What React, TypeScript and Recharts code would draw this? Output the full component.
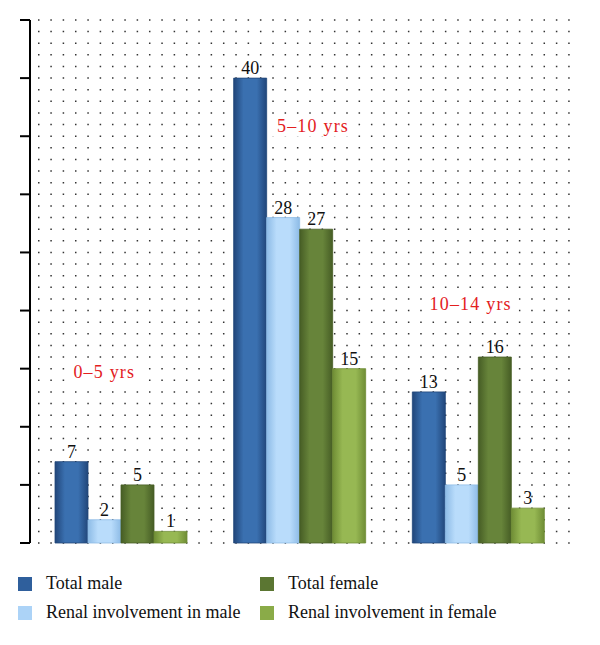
import React from 'react';
import { BarChart, Bar, XAxis, YAxis, CartesianGrid, Legend, LabelList, ReferenceDot } from 'recharts';

const groups = ['0–5 yrs', '5–10 yrs', '10–14 yrs'];
const totalMale = [7, 40, 13];
const renalMale = [2, 28, 5];
const totalFemale = [5, 27, 16];
const renalFemale = [1, 15, 3];
const yDomain = [0, 45];
const yTicks = [0, 5, 10, 15, 20, 25, 30, 35, 40, 45];
const gridValues = [
  0, 1, 2, 3, 4, 5, 6, 7, 8, 9, 10, 11, 12, 13, 14, 15, 16, 17, 18, 19, 20, 21, 22,
  23, 24, 25, 26, 27, 28, 29, 30, 31, 32, 33, 34, 35, 36, 37, 38, 39, 40, 41, 42, 43, 44, 45,
];
const annotationLabels = ['0–5 yrs', '5–10 yrs', '10–14 yrs'];
const annotationY = [14.7, 35.9, 20.6];
const annotationDx = [-17, 13, -8];

const series = [
  { key: 'totalMale', name: 'Total male', solid: '#2f5f9c', edge: '#21467a', mid: '#3a70b0' },
  { key: 'renalMale', name: 'Renal involvement in male', solid: '#acd3f7', edge: '#8dbbe6', mid: '#b9dcfb' },
  { key: 'totalFemale', name: 'Total female', solid: '#5b7632', edge: '#465d25', mid: '#67843a' },
  { key: 'renalFemale', name: 'Renal involvement in female', solid: '#8aab48', edge: '#6f8d35', mid: '#97b853' },
];

const data = groups.map((g, i) => ({
  group: g,
  totalMale: totalMale[i],
  renalMale: renalMale[i],
  totalFemale: totalFemale[i],
  renalFemale: renalFemale[i],
}));

const FONT = '"Liberation Serif", "DejaVu Serif", serif';

const LegendContent = () => (
  <div
    style={{
      display: 'grid',
      gridTemplateRows: '29px 29px',
      gridTemplateColumns: '242px 320px',
      gridAutoFlow: 'column',
      paddingTop: 26,
      paddingLeft: 10,
      height: 85,
      boxSizing: 'border-box',
      fontFamily: FONT,
      fontSize: 18,
      color: '#111',
    }}
  >
    {series.map((s) => (
      <div key={s.key} style={{ display: 'flex', alignItems: 'center', height: 29 }}>
        <span
          style={{
            display: 'inline-block',
            width: 14,
            height: 14,
            background: s.solid,
            marginRight: 14,
          }}
        />
        <span>{s.name}</span>
      </div>
    ))}
  </div>
);

const gridGenerator = (args: any) => {
  const s = args?.yAxis?.scale;
  if (typeof s === 'function') return gridValues.map((v) => s(v));
  const top = args.offset.top;
  const h = args.offset.height;
  return gridValues.map((v) => top + h * (1 - (v - yDomain[0]) / (yDomain[1] - yDomain[0])));
};

const makeAnnotation = (text: string, dx: number) => (props: any) => {
  const vb = props.viewBox || {};
  const cx = (vb.x || 0) + (vb.width || 0) / 2 + dx;
  const cy = (vb.y || 0) + (vb.height || 0) / 2;
  const w = text.length * 10 + 6;
  return (
    <g>
      <rect x={cx - w / 2} y={cy - 11} width={w} height={22} fill="#fff" />
      <text
        x={cx}
        y={cy}
        textAnchor="middle"
        dominantBaseline="central"
        fill="#e3201e"
        fontSize={18}
        letterSpacing={1.2}
        fontFamily={FONT}
      >
        {text}
      </text>
    </g>
  );
};

export default function App() {
  return (
    <div style={{ fontFamily: FONT }}>
      <BarChart
        width={584}
        height={630}
        data={data}
        margin={{ top: 12, right: 22, bottom: 10, left: 0 }}
        barGap={0}
      >
        <defs>
          {series.map((s) => (
            <linearGradient key={s.key} id={`grad-${s.key}`} x1="0" y1="0" x2="1" y2="0">
              <stop offset="0%" stopColor={s.edge} />
              <stop offset="30%" stopColor={s.mid} />
              <stop offset="70%" stopColor={s.mid} />
              <stop offset="100%" stopColor={s.edge} />
            </linearGradient>
          ))}
        </defs>
        <CartesianGrid
          vertical={false}
          horizontalCoordinatesGenerator={gridGenerator}
          stroke="#333"
          strokeWidth={1.5}
          strokeDasharray="1.5 10.83"
          strokeDashoffset={4.33}
        />
        <XAxis dataKey="group" hide padding={{ left: 2, right: 2 }} />
        <YAxis
          domain={yDomain}
          ticks={yTicks}
          tick={() => <g />}
          tickSize={10}
          width={22}
          axisLine={{ stroke: '#000', strokeWidth: 2 }}
          tickLine={{ stroke: '#000', strokeWidth: 2 }}
        />
        {series.map((s) => (
          <Bar
            key={s.key}
            dataKey={s.key}
            name={s.name}
            fill={`url(#grad-${s.key})`}
            stroke={s.edge}
            strokeWidth={0.8}
            barSize={33}
            isAnimationActive={false}
          >
            <LabelList
              dataKey={s.key}
              position="top"
              offset={4}
              fill="#111"
              fontSize={18}
              fontFamily={FONT}
            />
          </Bar>
        ))}
        {groups.map((g, i) => (
          <ReferenceDot
            key={g}
            x={g}
            y={annotationY[i]}
            r={0}
            fill="none"
            stroke="none"
            label={makeAnnotation(annotationLabels[i], annotationDx[i])}
          />
        ))}
        <Legend verticalAlign="bottom" align="left" content={<LegendContent />} />
      </BarChart>
    </div>
  );
}
